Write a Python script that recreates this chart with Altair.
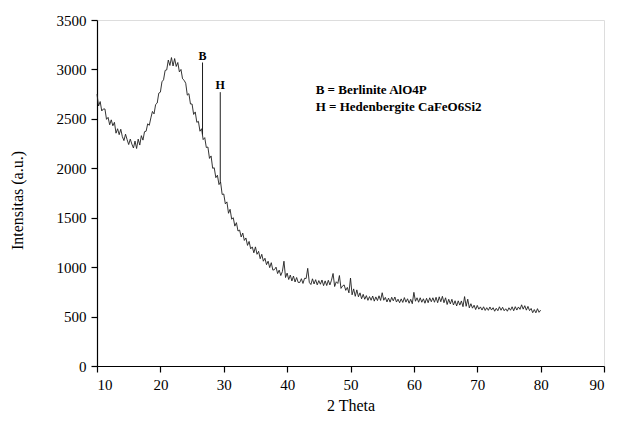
import altair as alt
import pandas as pd

# XRD pattern: 2-theta from 10 to 80 in steps of 0.25
theta_start = 10.0
theta_step = 0.25
intensity = [
    2750, 2630, 2675, 2580,   # 10
    2600, 2600, 2495, 2515,   # 11
    2440, 2490, 2430, 2465,   # 12
    2355, 2400, 2340, 2395,   # 13
    2320, 2280, 2345, 2290,   # 14
    2240, 2295, 2245, 2205,   # 15
    2275, 2200, 2295, 2235,   # 16
    2330, 2285, 2370, 2375,   # 17
    2450, 2435, 2510, 2575,   # 18
    2550, 2645, 2660, 2760,   # 19
    2770, 2875, 2895, 2990,   # 20
    2995, 3095, 3040, 3120,   # 21
    3035, 3110, 3030, 3070,   # 22
    2975, 3000, 2905, 2890,   # 23
    2860, 2740, 2755, 2650,   # 24
    2650, 2545, 2570, 2465,   # 25
    2475, 2375, 2400, 2290,   # 26
    2310, 2210, 2215, 2100,   # 27
    2125, 2000, 2005, 1905,   # 28
    1930, 1835, 1860, 1735,   # 29
    1740, 1640, 1660, 1545,   # 30
    1585, 1485, 1500, 1415,   # 31
    1450, 1365, 1375, 1305,   # 32
    1345, 1270, 1295, 1220,   # 33
    1260, 1185, 1205, 1145,   # 34
    1205, 1130, 1160, 1085,   # 35
    1130, 1060, 1090, 1025,   # 36
    1060, 995, 1045, 970,     # 37
    975, 1000, 935, 970,      # 38
    915, 955, 1060, 895,      # 39
    940, 875, 920, 860,       # 40
    910, 850, 895, 845,       # 41
    845, 883, 835, 887,       # 42
    885, 988, 846, 824,       # 43
    882, 830, 873, 821,       # 44
    864, 827, 870, 813,       # 45
    861, 814, 867, 820,       # 46
    868, 936, 804, 852,       # 47
    835, 915, 785, 810,       # 48
    820, 765, 795, 740,       # 49
    890, 720, 780, 705,       # 50
    770, 700, 740, 680,       # 51
    725, 675, 712, 664,       # 52
    702, 665, 708, 656,       # 53
    699, 662, 710, 663,       # 54
    741, 665, 694, 648,       # 55
    687, 646, 695, 659,       # 56
    698, 647, 676, 640,       # 57
    679, 643, 692, 646,       # 58
    680, 635, 675, 630,       # 59
    745, 655, 690, 645,       # 60
    690, 645, 680, 635,       # 61
    685, 640, 690, 650,       # 62
    690, 645, 695, 640,       # 63
    700, 650, 705, 640,       # 64
    690, 622, 675, 628,       # 65
    675, 617, 660, 607,       # 66
    659, 616, 658, 600,       # 67
    702, 604, 676, 588,       # 68
    630, 585, 615, 571,       # 69
    613, 575, 598, 566,       # 70
    599, 562, 590, 563,       # 71
    597, 566, 590, 554,       # 72
    584, 559, 599, 564,       # 73
    594, 559, 579, 554,       # 74
    589, 564, 599, 559,       # 75
    600, 566, 597, 573,       # 76
    619, 575, 610, 565,       # 77
    603, 560, 582, 539,       # 78
    571, 538, 580, 543,       # 79
    565,                      # 80
]
two_theta = [round(theta_start + i * theta_step, 2) for i in range(len(intensity))]

# sharp crystalline peaks
peak_labels = ["B", "H"]
peak_pos = [26.65, 29.45]
peak_base = [2340, 1850]
peak_top = [3070, 2770]
peak_label_y = [3140, 2840]

# legend text
legend_lines = ["B = Berlinite AlO4P", "H = Hedenbergite CaFeO6Si2"]
legend_x = [44.5, 44.5]
legend_y = [2790, 2624]

x_ticks = list(range(10, 95, 5))
y_ticks = list(range(0, 3750, 250))

serif = "Liberation Serif, Times New Roman, serif"
line_color = "#1e1e1e"

df = pd.DataFrame({"theta": two_theta, "intensity": intensity})
peaks = pd.DataFrame({"label": peak_labels, "pos": peak_pos, "base": peak_base,
                      "top": peak_top, "ly": peak_label_y})
legend = pd.DataFrame({"text": legend_lines, "x": legend_x, "y": legend_y})

x_scale = alt.Scale(domain=[10, 90], nice=False, zero=False)
y_scale = alt.Scale(domain=[0, 3500], nice=False)

x_axis = alt.Axis(
    values=x_ticks, format="d",
    labelExpr="datum.value % 10 === 0 ? datum.label : ''",
    tickSize={"condition": {"test": "datum.value % 10 === 0", "value": 6}, "value": 3},
    grid=False, domainColor="black", tickColor="black", domainWidth=1.2, tickWidth=1.2,
    labelFont=serif, labelFontSize=15, labelColor="black", labelPadding=5,
    title="2 Theta", titleFont=serif, titleFontSize=16, titleFontWeight="normal",
    titleColor="black", titleBaseline="alphabetic", titleY=44,
)
y_axis = alt.Axis(
    values=y_ticks, format="d",
    labelExpr="datum.value % 500 === 0 ? datum.label : ''",
    tickSize={"condition": {"test": "datum.value % 500 === 0", "value": 6}, "value": 3},
    grid=False, domainColor="black", tickColor="black", domainWidth=1.2, tickWidth=1.2,
    labelFont=serif, labelFontSize=15, labelColor="black", labelPadding=5,
    title="Intensitas (a.u.)", titleFont=serif, titleFontSize=16, titleFontWeight="normal",
    titleColor="black", titleBaseline="middle", titleX=-80, titleY=180, titleAngle=-90,
)

line = alt.Chart(df).mark_line(color=line_color, strokeWidth=0.9).encode(
    x=alt.X("theta:Q", scale=x_scale, axis=x_axis),
    y=alt.Y("intensity:Q", scale=y_scale, axis=y_axis),
)

peak_lines = alt.Chart(peaks).mark_rule(color=line_color, strokeWidth=1).encode(
    x="pos:Q", y="base:Q", y2="top:Q",
)

peak_text = alt.Chart(peaks).mark_text(
    font=serif, fontSize=12, fontWeight="bold", color="black", baseline="middle",
).encode(x="pos:Q", y="ly:Q", text="label:N")

legend_text = alt.Chart(legend).mark_text(
    font=serif, fontSize=13, fontWeight="bold", color="black", align="left", baseline="middle",
).encode(x="x:Q", y="y:Q", text="text:N")

chart = alt.layer(line, peak_lines, peak_text, legend_text).properties(
    width=507, height=346,
    autosize=alt.AutoSizeParams(type="none"),
    padding={"left": 89, "top": 12, "right": 8, "bottom": 47},
).configure_view(stroke=None).configure(background="white")

chart.save("out.html", embed_options={"renderer": "svg", "actions": False})
